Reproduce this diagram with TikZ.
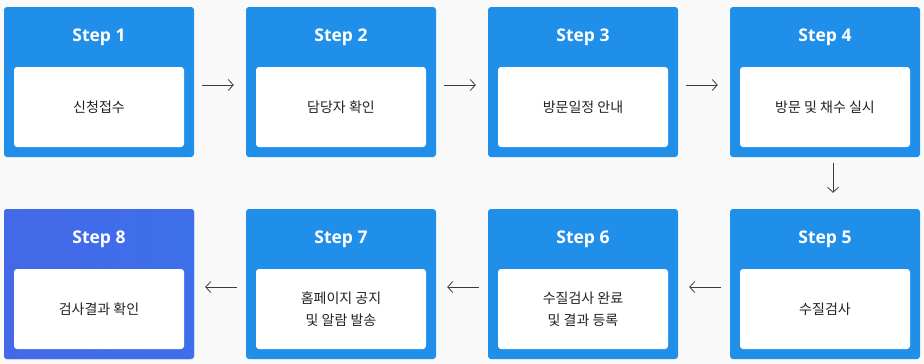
\documentclass[tikz,border=0pt]{standalone}
\usepackage{fontspec}
\setmainfont{Open Sans}
\newfontfamily\krfont{Noto Sans CJK KR}
\usetikzlibrary{arrows.meta, positioning}
\definecolor{stepblue}{HTML}{1F8FE9}
\definecolor{stepindigoL}{HTML}{4369E9}
\definecolor{stepindigoR}{HTML}{3E6FEA}
\definecolor{bggray}{HTML}{F9F9F9}
\definecolor{arrowgray}{HTML}{3C3C3C}
\definecolor{cardtext}{HTML}{222222}
\tikzset{
  stepbox/.style   = {fill=stepblue, rounded corners=3pt, minimum width=190pt,
                      minimum height=150pt, inner sep=0pt},
  card/.style      = {fill=white, rounded corners=3pt, minimum width=170pt,
                      minimum height=80pt, align=center, text=cardtext,
                      font=\krfont\fontsize{14}{22}\selectfont},
  steptitle/.style = {text=white, font=\bfseries\fontsize{17.5}{20}\selectfont},
  flow/.style      = {-{Straight Barb[length=5pt, width=11pt]}, draw=arrowgray,
                      line width=0.8pt}
}

\begin{document}
\begin{tikzpicture}[x=1pt, y=-1pt]
\fill[bggray] (0,0) rectangle (924,364);
\useasboundingbox (0,0) rectangle (924,364);

% top row
\node[stepbox] at ( 99, 82) (s1) {};
\node[stepbox] at (341, 82) (s2) {};
\node[stepbox] at (583, 82) (s3) {};
\node[stepbox] at (825, 82) (s4) {};
% bottom row
\node[stepbox] at (825,284) (s5) {};
\node[stepbox] at (583,284) (s6) {};
\node[stepbox] at (341,284) (s7) {};
\node[stepbox, left color=stepindigoL, right color=stepindigoR] at ( 99,284) (s8) {};

\node[steptitle] at ( 99, 37) (t1) {Step 1};
\node[steptitle] at (341, 37) (t2) {Step 2};
\node[steptitle] at (583, 37) (t3) {Step 3};
\node[steptitle] at (825, 37) (t4) {Step 4};
\node[steptitle] at (825,239) (t5) {Step 5};
\node[steptitle] at (583,239) (t6) {Step 6};
\node[steptitle] at (341,239) (t7) {Step 7};
\node[steptitle] at ( 99,239) (t8) {Step 8};

\node[card] at ( 99,107) (c1) {신청접수};
\node[card] at (341,107) (c2) {담당자 확인};
\node[card] at (583,107) (c3) {방문일정 안내};
\node[card] at (825,107) (c4) {방문 및 채수 실시};
\node[card] at (825,309) (c5) {수질검사};
\node[card] at (583,309) (c6) {수질검사 완료\\및 결과 등록};
\node[card] at (341,309) (c7) {홈페이지 공지\\및 알람 발송};
\node[card] at ( 99,309) (c8) {검사결과 확인};

\draw[flow, shorten <=8pt, shorten >=12pt] ([yshift=-3pt]s1.east) -- ([yshift=-3pt]s2.west);
\draw[flow, shorten <=8pt, shorten >=12pt] ([yshift=-3pt]s2.east) -- ([yshift=-3pt]s3.west);
\draw[flow, shorten <=8pt, shorten >=12pt] ([yshift=-3pt]s3.east) -- ([yshift=-3pt]s4.west);
\draw[flow, shorten <=6pt, shorten >=16pt] ([xshift=8pt]s4.south) -- ([xshift=8pt]s5.north);
\draw[flow, shorten <=9pt, shorten >=11pt] ([yshift=-3pt]s5.west) -- ([yshift=-3pt]s6.east);
\draw[flow, shorten <=9pt, shorten >=11pt] ([yshift=-3pt]s6.west) -- ([yshift=-3pt]s7.east);
\draw[flow, shorten <=9pt, shorten >=11pt] ([yshift=-3pt]s7.west) -- ([yshift=-3pt]s8.east);
\end{tikzpicture}
\end{document}
